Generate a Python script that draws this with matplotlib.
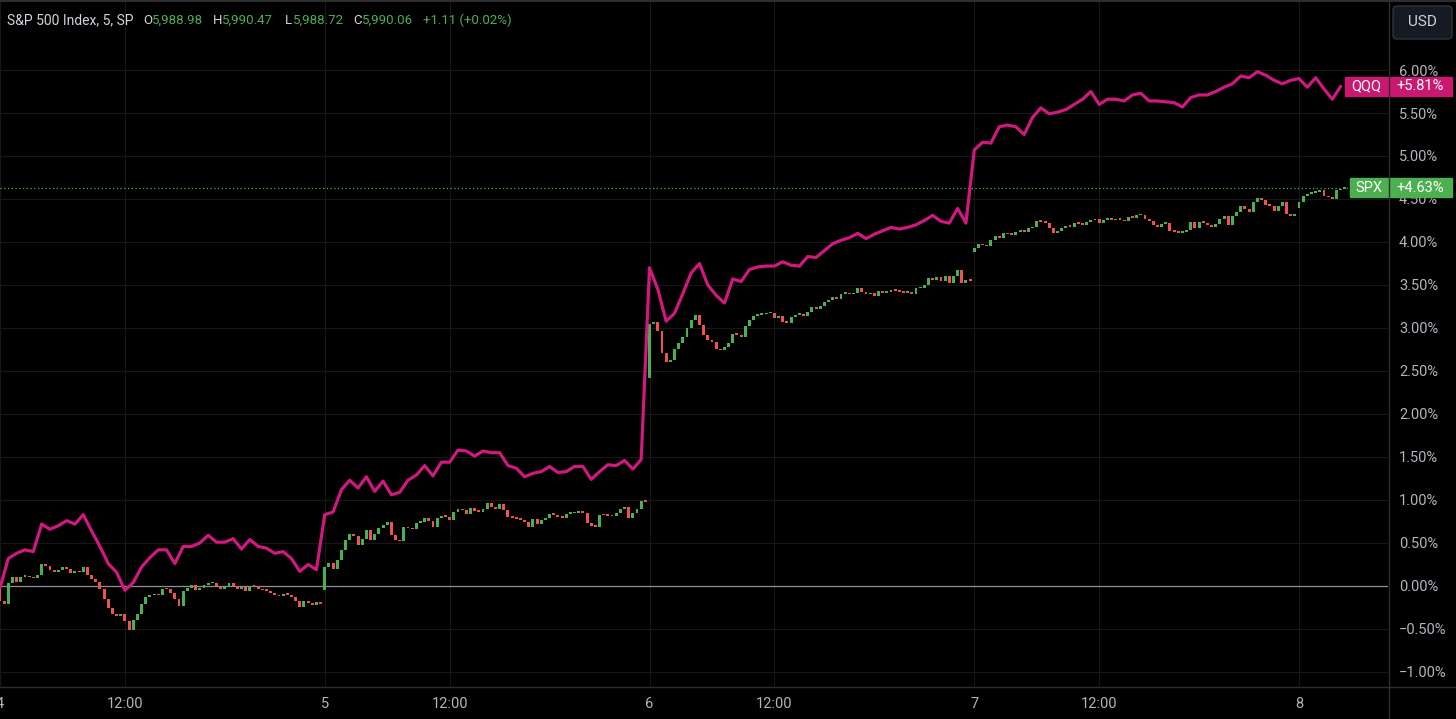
import numpy as np
import matplotlib.pyplot as plt
from matplotlib.patches import Rectangle, FancyBboxPatch
from matplotlib.transforms import blended_transform_factory

plt.rcParams['font.family'] = ['Roboto', 'DejaVu Sans']

# ---------------- data: % change vs. close before the 4th ----------------
bars_per_day = 78          # 5-minute bars, 9:30 - 16:00
noon_bar = 30              # 12:00 is the 30th bar of the session
day_names = ["4", "5", "6", "7", "8"]

# SPX candles: first open of each session, then the close of every bar
spx_open = [0.00, -0.05, 2.42, 3.88, 4.39]
spx_d4 = [-0.17, -0.21, 0.03, 0.10, 0.05, 0.11, 0.12, 0.10, 0.09, 0.13,
          0.25, 0.23, 0.19, 0.16, 0.19, 0.22, 0.20, 0.15, 0.17, 0.16,
          0.22, 0.13, 0.08, 0.05, -0.03, -0.15, -0.26, -0.33, -0.35, -0.33,
          -0.41, -0.51, -0.40, -0.33, -0.21, -0.13, -0.11, -0.09, -0.11, -0.03,
          -0.04, -0.08, -0.15, -0.23, -0.06, -0.02, 0.01, -0.05, -0.02, 0.01,
          0.03, 0.04, 0.00, -0.04, -0.01, 0.03, 0.00, -0.03, -0.01, -0.06,
          0.00, -0.01, -0.04, -0.05, -0.06, -0.08, -0.10, -0.12, -0.09, -0.10,
          -0.13, -0.18, -0.25, -0.18, -0.20, -0.22, -0.19, -0.21]
spx_d5 = [0.22, 0.27, 0.20, 0.30, 0.42, 0.53, 0.61, 0.58, 0.48, 0.55,
          0.65, 0.54, 0.60, 0.67, 0.71, 0.74, 0.59, 0.54, 0.52, 0.69,
          0.67, 0.66, 0.73, 0.74, 0.79, 0.76, 0.69, 0.79, 0.81, 0.80,
          0.77, 0.86, 0.89, 0.88, 0.84, 0.91, 0.87, 0.86, 0.90, 0.96,
          0.92, 0.90, 0.95, 0.88, 0.80, 0.79, 0.78, 0.77, 0.74, 0.69,
          0.78, 0.72, 0.77, 0.79, 0.84, 0.83, 0.80, 0.79, 0.84, 0.845,
          0.85, 0.86, 0.85, 0.73, 0.70, 0.69, 0.83, 0.82, 0.815, 0.81,
          0.85, 0.89, 0.92, 0.79, 0.85, 0.89, 0.99, 0.98]
spx_d6 = [3.05, 3.07, 2.97, 2.71, 2.61, 2.63, 2.76, 2.82, 2.90, 3.00,
          3.09, 3.15, 3.04, 2.92, 2.86, 2.84, 2.76, 2.74, 2.78, 2.82,
          2.93, 2.92, 2.90, 3.02, 3.09, 3.14, 3.15, 3.16, 3.17, 3.18,
          3.12, 3.14, 3.07, 3.06, 3.13, 3.15, 3.16, 3.14, 3.19, 3.24,
          3.22, 3.26, 3.30, 3.33, 3.36, 3.34, 3.40, 3.41, 3.39, 3.41,
          3.47, 3.42, 3.39, 3.41, 3.37, 3.43, 3.41, 3.42, 3.44, 3.43,
          3.42, 3.41, 3.42, 3.40, 3.46, 3.47, 3.50, 3.58, 3.56, 3.59,
          3.55, 3.60, 3.52, 3.60, 3.67, 3.52, 3.56, 3.55]
spx_d7 = [3.93, 3.98, 3.96, 3.95, 4.02, 4.07, 4.05, 4.10, 4.09, 4.08,
          4.12, 4.13, 4.12, 4.16, 4.18, 4.24, 4.23, 4.22, 4.16, 4.11,
          4.13, 4.16, 4.19, 4.18, 4.22, 4.21, 4.20, 4.23, 4.25, 4.27,
          4.22, 4.26, 4.28, 4.25, 4.27, 4.26, 4.24, 4.29, 4.28, 4.31,
          4.31, 4.27, 4.24, 4.20, 4.18, 4.21, 4.22, 4.13, 4.12, 4.11,
          4.12, 4.14, 4.23, 4.16, 4.23, 4.22, 4.20, 4.18, 4.21, 4.27,
          4.30, 4.20, 4.30, 4.35, 4.42, 4.38, 4.35, 4.47, 4.51, 4.49,
          4.43, 4.42, 4.36, 4.42, 4.47, 4.32, 4.30, 4.33]
spx_d8 = [4.47, 4.53, 4.56, 4.57, 4.58, 4.61, 4.53, 4.52, 4.50, 4.60, 4.62, 4.63]

# QQQ line, read every second 5-minute bar
qqq_step = 2
qqq_d4 = [-0.02, 0.32, 0.38, 0.42, 0.40, 0.72, 0.66, 0.70, 0.76, 0.72,
          0.83, 0.64, 0.46, 0.26, 0.16, -0.05, 0.04, 0.22, 0.33, 0.42,
          0.42, 0.26, 0.46, 0.46, 0.50, 0.59, 0.51, 0.51, 0.55, 0.43,
          0.54, 0.46, 0.44, 0.38, 0.40, 0.32, 0.17, 0.25, 0.19]
qqq_d5 = [0.83, 0.86, 1.12, 1.23, 1.14, 1.27, 1.10, 1.22, 1.06, 1.09,
          1.23, 1.29, 1.40, 1.28, 1.44, 1.44, 1.58, 1.57, 1.51, 1.57,
          1.55, 1.55, 1.40, 1.37, 1.27, 1.31, 1.33, 1.39, 1.32, 1.33,
          1.39, 1.39, 1.24, 1.33, 1.41, 1.40, 1.46, 1.36, 1.47]
qqq_d6 = [3.70, 3.45, 3.08, 3.17, 3.40, 3.64, 3.75, 3.50, 3.38, 3.29,
          3.57, 3.54, 3.68, 3.71, 3.72, 3.72, 3.77, 3.73, 3.72, 3.83,
          3.82, 3.90, 3.98, 4.02, 4.05, 4.10, 4.04, 4.09, 4.13, 4.17,
          4.15, 4.17, 4.20, 4.25, 4.31, 4.24, 4.22, 4.39, 4.22]
qqq_d7 = [5.07, 5.16, 5.15, 5.34, 5.36, 5.34, 5.25, 5.45, 5.56, 5.49,
          5.51, 5.54, 5.60, 5.66, 5.75, 5.60, 5.66, 5.66, 5.64, 5.71,
          5.73, 5.64, 5.64, 5.63, 5.62, 5.57, 5.68, 5.71, 5.71, 5.75,
          5.80, 5.84, 5.93, 5.91, 5.98, 5.94, 5.88, 5.84, 5.88]
qqq_d8 = [5.90, 5.80, 5.91, 5.78, 5.66, 5.81]

y_ticks = [-1.0, -0.5, 0.0, 0.5, 1.0, 1.5, 2.0, 2.5, 3.0, 3.5, 4.0, 4.5, 5.0, 5.5, 6.0]

header_title = "S&P 500 Index, 5, SP"
header_ohlc = [("O", "5,988.98"), ("H", "5,990.47"), ("L", "5,988.72"), ("C", "5,990.06")]
header_change = "+1.11 (+0.02%)"

# ---------------- style ----------------
BG = "#000000"
GREEN = "#4caf50"
RED = "#ef5350"
PINK = "#d0197e"
TEXT = "#b2b5be"
GRID = "#171717"
SEP = "#2e2e2e"

W, H = 1456, 719
plot_w, plot_h = 1388, 686
px_per_bar = 325 / bars_per_day
x_left = 0.25

fig = plt.figure(figsize=(W / 100, H / 100), dpi=100, facecolor=BG)
ax = fig.add_axes([0, (H - plot_h) / H, plot_w / W, plot_h / H])
ax.set_facecolor(BG)

# ---------------- SPX candles ----------------
sx, so, sc = [], [], []
for d, (first_open, closes) in enumerate(zip(spx_open, [spx_d4, spx_d5, spx_d6, spx_d7, spx_d8])):
    sx += [d * bars_per_day + i for i in range(len(closes))]
    so += [first_open] + closes[:-1]
    sc += closes
so, sc = np.array(so), np.array(sc)
colors = np.where(sc >= so, GREEN, RED)
ax.bar(sx, np.maximum(np.abs(sc - so), 0.02), bottom=np.minimum(so, sc),
       width=0.7, color=colors, linewidth=0, zorder=3)

# ---------------- QQQ line ----------------
qx, qy = [], []
for d, vals in enumerate([qqq_d4, qqq_d5, qqq_d6, qqq_d7, qqq_d8]):
    qx += [d * bars_per_day + qqq_step * i for i in range(len(vals))]
    qy += vals
ax.plot(qx, qy, color=PINK, lw=2.3, solid_joinstyle='round', solid_capstyle='round', zorder=4)

# ---------------- axes ----------------
ax.set_xlim(x_left, x_left + plot_w / px_per_bar)
ax.set_ylim(-1.163, 6.814)

xt, xl = [], []
for d, name in enumerate(day_names):
    xt.append(d * bars_per_day); xl.append(name)
    if d < len(day_names) - 1:
        xt.append(d * bars_per_day + noon_bar); xl.append("12:00")
ax.set_xticks(xt)
ax.set_xticklabels(xl)
ax.set_yticks(y_ticks)
ax.set_yticklabels([f"{v:.2f}%".replace("-", "\u2212") for v in y_ticks])
ax.yaxis.tick_right()
ax.tick_params(axis='y', length=0, pad=8, labelsize=10.5, labelcolor=TEXT)
ax.tick_params(axis='x', length=0, pad=8, labelsize=10.5, labelcolor=TEXT)
for lab in ax.get_yticklabels():
    lab.set_horizontalalignment('left')
ax.grid(True, color=GRID, lw=0.8, zorder=0)
ax.set_axisbelow(True)
for s in ax.spines.values():
    s.set_visible(False)

ax.axhline(0, color="#8c8f98", lw=0.9, zorder=2)
spx_last = spx_d8[-1]
qqq_last = qqq_d8[-1]
ax.axhline(spx_last, color=GREEN, lw=0.9, ls=(0, (1, 2)), zorder=2)

# ---------------- price tags ----------------
blend = blended_transform_factory(ax.transAxes, ax.transData)


def price_tag(val, name, color, name_w):
    h = 0.225
    nw = name_w / plot_w
    vw = 64 / plot_w
    ax.add_patch(Rectangle((1 - nw, val - h / 2), nw, h, transform=blend,
                           color=color, clip_on=False, zorder=6))
    ax.add_patch(Rectangle((1, val - h / 2), vw, h, transform=blend,
                           color=color, clip_on=False, zorder=6))
    ax.text(1 - nw / 2, val, name, transform=blend, ha='center', va='center',
            color='white', fontsize=10.5, clip_on=False, zorder=7)
    ax.text(1 + vw / 2, val, f"+{val:.2f}%", transform=blend, ha='center', va='center',
            color='white', fontsize=10.5, clip_on=False, zorder=7)


price_tag(qqq_last, "QQQ", "#c8186f", 43)
price_tag(spx_last, "SPX", GREEN, 38)

# ---------------- overlay: separators, header, USD button ----------------
ov = fig.add_axes([0, 0, 1, 1], zorder=10)
ov.set_xlim(0, W)
ov.set_ylim(H, 0)
ov.axis('off')
ov.patch.set_alpha(0)
ov.plot([plot_w + 0.5, plot_w + 0.5], [0, H], color=SEP, lw=1)
ov.plot([0, W], [plot_h + 0.5, plot_h + 0.5], color=SEP, lw=1)
ov.plot([0, W], [0.5, 0.5], color=SEP, lw=1.5)

ov.add_patch(FancyBboxPatch((1393, 6), 59, 33, boxstyle="round,pad=0,rounding_size=4",
                            fc="#161a23", ec="#2f3340", lw=1))
ov.text(1422.5, 22.5, "USD", ha='center', va='center', color="#d1d4dc", fontsize=11)

hy = 20
ov.text(7, hy, header_title, ha='left', va='center', color="#d1d4dc", fontsize=10)
pos = [(143, 152), (213, 222), (285, 293), (353, 362)]
for (letter, value), (lx, vx) in zip(header_ohlc, pos):
    ov.text(lx, hy, letter, ha='left', va='center', color="#d1d4dc", fontsize=9.5)
    ov.text(vx, hy, value, ha='left', va='center', color=GREEN, fontsize=9.5)
ov.text(423, hy, header_change, ha='left', va='center', color=GREEN, fontsize=9.5)

fig.savefig("out.png", dpi=100, facecolor=BG)
